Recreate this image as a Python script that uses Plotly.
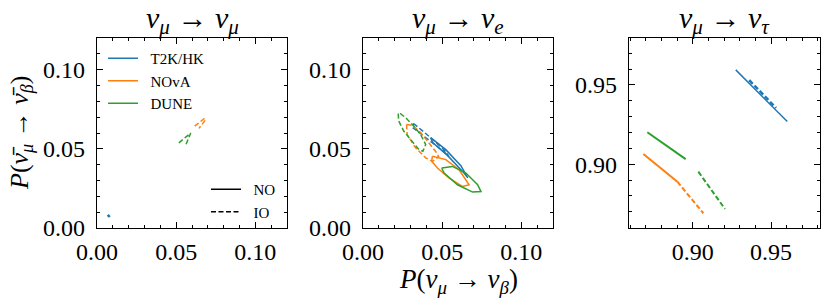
import plotly.graph_objects as go

# ---------------- data ----------------
# Panel 1: nu_mu -> nu_mu
mumu_t2k_no_x = [0.0068, 0.0080]
mumu_t2k_no_y = [0.0071, 0.0082]
mumu_nova_io_x = [0.0617, 0.0676, 0.0687, 0.0644]
mumu_nova_io_y = [0.0643, 0.0690, 0.0686, 0.0629]
mumu_dune_io_x = [0.0517, 0.0592, 0.0560]
mumu_dune_io_y = [0.0538, 0.0600, 0.0523]

# Panel 2: nu_mu -> nu_e
mue_t2k_no_x = [0.0427, 0.0523, 0.0618, 0.0662, 0.0630, 0.0535, 0.0440, 0.0427]
mue_t2k_no_y = [0.0571, 0.0495, 0.0394, 0.0317, 0.0356, 0.0457, 0.0540, 0.0571]
mue_t2k_io_x = [0.0319, 0.0427, 0.0523, 0.0542, 0.0510, 0.0415, 0.0313, 0.0319]
mue_t2k_io_y = [0.0660, 0.0571, 0.0483, 0.0451, 0.0483, 0.0559, 0.0635, 0.0660]
mue_nova_no_x = [0.0438, 0.0523, 0.0607, 0.0670, 0.0629, 0.0543, 0.0470, 0.0434, 0.0438]
mue_nova_no_y = [0.0453, 0.0432, 0.0368, 0.0273, 0.0262, 0.0316, 0.0379, 0.0421, 0.0453]
mue_nova_io_x = [0.0275, 0.0313, 0.0364, 0.0415, 0.0459, 0.0478, 0.0440, 0.0396, 0.0332, 0.0279, 0.0273, 0.0275]
mue_nova_io_y = [0.0654, 0.0648, 0.0603, 0.0540, 0.0483, 0.0451, 0.0421, 0.0443, 0.0506, 0.0590, 0.0635, 0.0654]
mue_dune_no_x = [0.0497, 0.0565, 0.0650, 0.0724, 0.0745, 0.0692, 0.0597, 0.0512, 0.0497]
mue_dune_no_y = [0.0379, 0.0389, 0.0347, 0.0273, 0.0230, 0.0227, 0.0273, 0.0347, 0.0379]
mue_dune_io_x = [0.0222, 0.0226, 0.0258, 0.0311, 0.0353, 0.0378, 0.0396, 0.0364, 0.0321, 0.0269, 0.0237, 0.0222]
mue_dune_io_y = [0.0722, 0.0675, 0.0611, 0.0548, 0.0495, 0.0484, 0.0527, 0.0590, 0.0643, 0.0697, 0.0722, 0.0722]

# Panel 3: nu_mu -> nu_tau
mutau_t2k_no_x = [0.9275, 0.9604]
mutau_t2k_no_y = [0.9595, 0.9269]
mutau_t2k_io_x = [0.9361, 0.9532]
mutau_t2k_io_y = [0.9530, 0.9355]
mutau_nova_no_x = [0.8685, 0.8902]
mutau_nova_no_y = [0.9065, 0.8890]
mutau_nova_io_x = [0.8902, 0.9068]
mutau_nova_io_y = [0.8890, 0.8691]
mutau_dune_no_x = [0.8710, 0.8955]
mutau_dune_no_y = [0.9202, 0.9032]
mutau_dune_io_x = [0.9036, 0.9206]
mutau_dune_io_y = [0.8953, 0.8718]

experiments = ["T2K/HK", "NOvA", "DUNE"]
orderings = ["NO", "IO"]
panel_titles = ["<i>ν</i><sub><i>μ</i></sub> → <i>ν</i><sub><i>μ</i></sub>",
                "<i>ν</i><sub><i>μ</i></sub> → <i>ν</i><sub><i>e</i></sub>",
                "<i>ν</i><sub><i>μ</i></sub> → <i>ν</i><sub><i>τ</i></sub>"]
x_label = "<i>P</i>(<i>ν</i><sub><i>μ</i></sub> → <i>ν</i><sub><i>β</i></sub>)"
y_label = "<i>P</i>(<i>ν̄</i><sub><i>μ</i></sub> → <i>ν̄</i><sub><i>β</i></sub>)"
ticks_small = [0.00, 0.05, 0.10]
ticks_small_text = ["0.00", "0.05", "0.10"]
ticks_tau = [0.90, 0.95]
ticks_tau_text = ["0.90", "0.95"]

# ---------------- styling ----------------
COL = {"T2K/HK": "#1f77b4", "NOvA": "#ff7f0e", "DUNE": "#2ca02c"}
DASH = {"NO": "solid", "IO": "5px,2.5px"}
FONT = "Liberation Serif"
W, H = 830, 306
PAD = "\u2002"  # small gap between legend line and label

fig = go.Figure()

def add(xs, ys, exp, order, axis, width=1.5):
    fig.add_trace(go.Scatter(
        x=xs, y=ys, mode="lines", showlegend=False,
        line=dict(color=COL[exp], dash=DASH[order], width=width),
        xaxis="x" + axis, yaxis="y" + axis, hoverinfo="skip"))

add(mumu_t2k_no_x, mumu_t2k_no_y, "T2K/HK", "NO", "", 3)
add(mumu_nova_io_x, mumu_nova_io_y, "NOvA", "IO", "")
add(mumu_dune_io_x, mumu_dune_io_y, "DUNE", "IO", "")

add(mue_t2k_no_x, mue_t2k_no_y, "T2K/HK", "NO", "2")
add(mue_t2k_io_x, mue_t2k_io_y, "T2K/HK", "IO", "2")
add(mue_nova_no_x, mue_nova_no_y, "NOvA", "NO", "2")
add(mue_nova_io_x, mue_nova_io_y, "NOvA", "IO", "2")
add(mue_dune_no_x, mue_dune_no_y, "DUNE", "NO", "2")
add(mue_dune_io_x, mue_dune_io_y, "DUNE", "IO", "2")

add(mutau_t2k_no_x, mutau_t2k_no_y, "T2K/HK", "NO", "3")
add(mutau_t2k_io_x, mutau_t2k_io_y, "T2K/HK", "IO", "3", 2.5)
add(mutau_nova_no_x, mutau_nova_no_y, "NOvA", "NO", "3", 2)
add(mutau_nova_io_x, mutau_nova_io_y, "NOvA", "IO", "3", 2)
add(mutau_dune_no_x, mutau_dune_no_y, "DUNE", "NO", "3", 2)
add(mutau_dune_io_x, mutau_dune_io_y, "DUNE", "IO", "3", 2)

# legend entries
for exp in experiments:
    fig.add_trace(go.Scatter(x=[None], y=[None], mode="lines", name=PAD + exp,
                             line=dict(color=COL[exp], width=1.5), legend="legend"))
for o in orderings:
    fig.add_trace(go.Scatter(x=[None], y=[None], mode="lines", name=PAD + o,
                             line=dict(color="black", dash=DASH[o], width=1.5), legend="legend2"))

ydom = [1 - 228 / H, 1 - 38 / H]
xdoms = [[97 / W, 287 / W], [363 / W, 553 / W], [629 / W, 820 / W]]
xranges = [[0, 0.12], [0, 0.12], [0.8593, 0.9813]]
yranges = [[0, 0.12], [0, 0.12], [0.8598, 0.9796]]
tvs = [ticks_small, ticks_small, ticks_tau]
tts = [ticks_small_text, ticks_small_text, ticks_tau_text]

def major_ax(domain, rng, tv, tt, anchor, standoff):
    return dict(domain=domain, range=rng, tickmode="array", tickvals=tv, ticktext=tt,
                anchor=anchor, automargin=False, showgrid=False, zeroline=False,
                showline=True, linecolor="black", linewidth=1.2, mirror="ticks",
                ticks="inside", ticklen=6, tickwidth=1, tickcolor="black",
                ticklabelstandoff=standoff,
                tickfont=dict(family=FONT, size=24, color="black"))

def minor_ax(domain, rng, anchor, over):
    return dict(domain=domain, range=rng, tickmode="linear", tick0=0, dtick=0.01,
                anchor=anchor, overlaying=over, automargin=False, showgrid=False,
                zeroline=False, showline=False, mirror="ticks", ticks="inside",
                ticklen=3, tickwidth=1, tickcolor="black", showticklabels=False)

layout_axes = {}
for i in range(3):
    s = "" if i == 0 else str(i + 1)
    m = str(i + 4)
    layout_axes["xaxis" + s] = major_ax(xdoms[i], xranges[i], tvs[i], tts[i], "y" + s, 2)
    layout_axes["yaxis" + s] = major_ax(ydom, yranges[i], tvs[i], tts[i], "x" + s, 6)
    layout_axes["xaxis" + m] = minor_ax(xdoms[i], xranges[i], "y" + m, "x" + s)
    layout_axes["yaxis" + m] = minor_ax(ydom, yranges[i], "x" + m, "y" + s)
    # helper (empty) trace so that the minor-tick axes are drawn
    fig.add_trace(go.Scatter(x=[None], y=[None], mode="lines", showlegend=False,
                             xaxis="x" + m, yaxis="y" + m, hoverinfo="skip"))

fig.update_layout(
    width=W, height=H, margin=dict(l=0, r=0, t=0, b=0),
    plot_bgcolor="white", paper_bgcolor="white",
    font=dict(family=FONT, color="black"),
    legend=dict(x=103 / W, y=1 - 42 / H, xanchor="left", yanchor="top",
                bgcolor="rgba(0,0,0,0)", font=dict(family=FONT, size=15),
                tracegroupgap=0, itemwidth=30),
    legend2=dict(x=206 / W, y=1 - 173 / H, xanchor="left", yanchor="top",
                 bgcolor="rgba(0,0,0,0)", font=dict(family=FONT, size=15),
                 tracegroupgap=0, itemwidth=30),
    **layout_axes,
)

centers = [(d[0] + d[1]) / 2 for d in xdoms]
for c, t in zip(centers, panel_titles):
    fig.add_annotation(text=t, x=c, y=1 - 41 / H, xref="paper", yref="paper",
                       xanchor="center", yanchor="bottom", showarrow=False,
                       font=dict(family=FONT, size=30, color="black"))
fig.add_annotation(text=x_label, x=centers[1], y=1 - 281 / H, xref="paper", yref="paper",
                   xanchor="center", yanchor="middle", showarrow=False,
                   font=dict(family=FONT, size=27, color="black"))
fig.add_annotation(text=y_label, x=21 / W, y=1 - 133 / H, xref="paper", yref="paper",
                   xanchor="center", yanchor="middle", showarrow=False, textangle=-90,
                   font=dict(family=FONT, size=26, color="black"))

fig.write_html("out.html", config={"displayModeBar": False},
               post_script="document.body.style.margin='0px';")
